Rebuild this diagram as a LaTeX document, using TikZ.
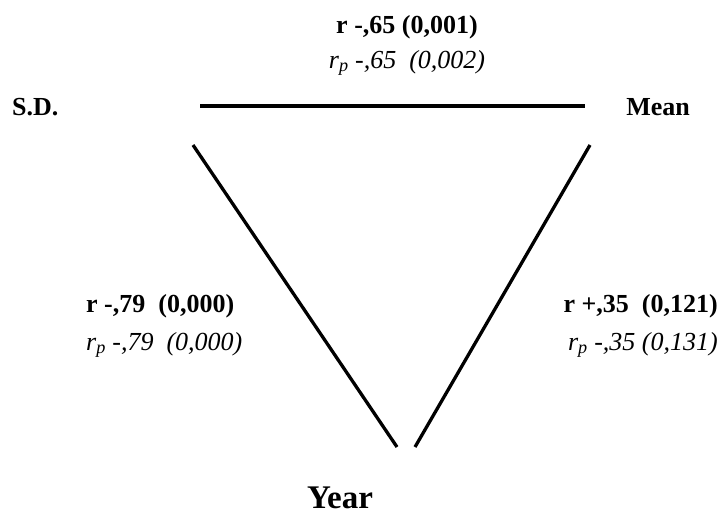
\documentclass[tikz,border=0pt]{standalone}
\usepackage{fontspec}
\setmainfont{Liberation Serif}
\tikzset{
  lbl/.style={inner sep=0pt, font=\fontsize{26}{30}\selectfont\bfseries},
  ilbl/.style={inner sep=0pt, font=\fontsize{26}{30}\selectfont\itshape},
  edgeline/.style={line width=3.3pt, line cap=butt},
}
\newcommand{\rpx}{r\textsubscript{p}}
\begin{document}
\begin{tikzpicture}[x=1pt,y=-1pt]
\useasboundingbox (0,0) rectangle (720,517);
% vertex labels
\node[lbl, anchor=base west] (sd) at (12,115) {S.D.};
\node[lbl, anchor=base east] (mean) at (690,115) {Mean};
\node[lbl, anchor=base, font=\fontsize{33}{36}\selectfont\bfseries] (year) at (340,508) {Year};
% edge labels
\node[lbl, anchor=base] (t1) at (407,33) {r -,65 (0,001)};
\node[ilbl, anchor=base] (t2) at (407,68) {\rpx{} -,65\ \ (0,002)};
\node[lbl, anchor=base west] (l1) at (86,312) {r -,79\ \ (0,000)};
\node[ilbl, anchor=base west] (l2) at (86,350) {\rpx{} -,79\ \ (0,000)};
\node[lbl, anchor=base east] (r1) at (718,312) {r +,35\ \ (0,121)};
\node[ilbl, anchor=base east] (r2) at (718,350) {\rpx{} -,35 (0,131)};
% line endpoints
\coordinate (a1) at (200,106);
\coordinate (a2) at (585,106);
\coordinate (b1) at (193,145);
\coordinate (b2) at (397,447);
\coordinate (c1) at (590,145);
\coordinate (c2) at (415,447);
\draw[edgeline] (a1) -- (a2);
\draw[edgeline] (b1) -- (b2);
\draw[edgeline] (c1) -- (c2);
\end{tikzpicture}
\end{document}
